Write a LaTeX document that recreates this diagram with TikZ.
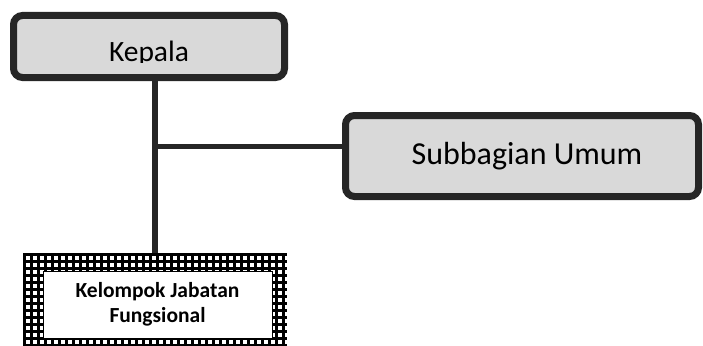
\documentclass[tikz,border=0pt]{standalone}
\usepackage{fontspec}
\setmainfont{Carlito}
\usetikzlibrary{calc}

\tikzset{
	unitbox/.style={draw=black!85, line width=7pt, rounded corners=9pt, fill=black!15, inner sep=0pt, align=center},
	connector/.style={draw=black!85, line width=5.5pt},
	checkframe/.style={fill=black, inner sep=0pt},
	checkhole/.style={fill=white},
	fungbox/.style={draw=black, line width=1pt, fill=white, inner sep=0pt, align=center, font=\bfseries\fontsize{21.5}{25}\selectfont},
}

\begin{document}
\begin{tikzpicture}[x=1pt, y=-1pt]
	%%%%% START %%%%%
	\useasboundingbox (0,0) rectangle (703,345);
	\clip (0,0) rectangle (703,345);
	
	\node[unitbox, minimum width=271pt, minimum height=62pt] (kepala) at (149,46.5) {};
	\begin{scope}
		\clip (20,20) rectangle (280,62);
		\node[anchor=base, inner sep=0pt, font=\fontsize{29.5}{32}\selectfont] (kepalatext) at (149,61) {Kepala};
	\end{scope}
	
	\node[unitbox, minimum width=353pt, minimum height=81pt, font=\fontsize{32}{35}\selectfont] (subbagian) at (522,156) {\raisebox{-3pt}{\hspace{10pt}Subbagian Umum}};
	
	% checkered frame
	\node[checkframe, minimum width=264pt, minimum height=102pt] (jafung) at (155,304) {};
	\begin{scope}
		\clip (jafung.north west) rectangle (jafung.south east);
		\foreach \i in {0,...,38}
			\foreach \j in {0,...,15}
				\fill[checkhole] ($(jafung.north west)+(3+7*\i, 3+7*\j)$) rectangle +(4.5,4.5);
	\end{scope}
	\node[fungbox, minimum width=229pt, minimum height=67pt] (kelompok) at (157.5,304.5) {Kelompok Jabatan\\Fungsional};
	
	\coordinate (tee) at ($(subbagian.west)+(0,-9.5)$);
	\draw[connector] (kepala.south -| jafung.north) -- (jafung.north);
	\draw[connector] (tee -| jafung.north) -- (tee);
	%%%%% END %%%%%
\end{tikzpicture}
\end{document}
